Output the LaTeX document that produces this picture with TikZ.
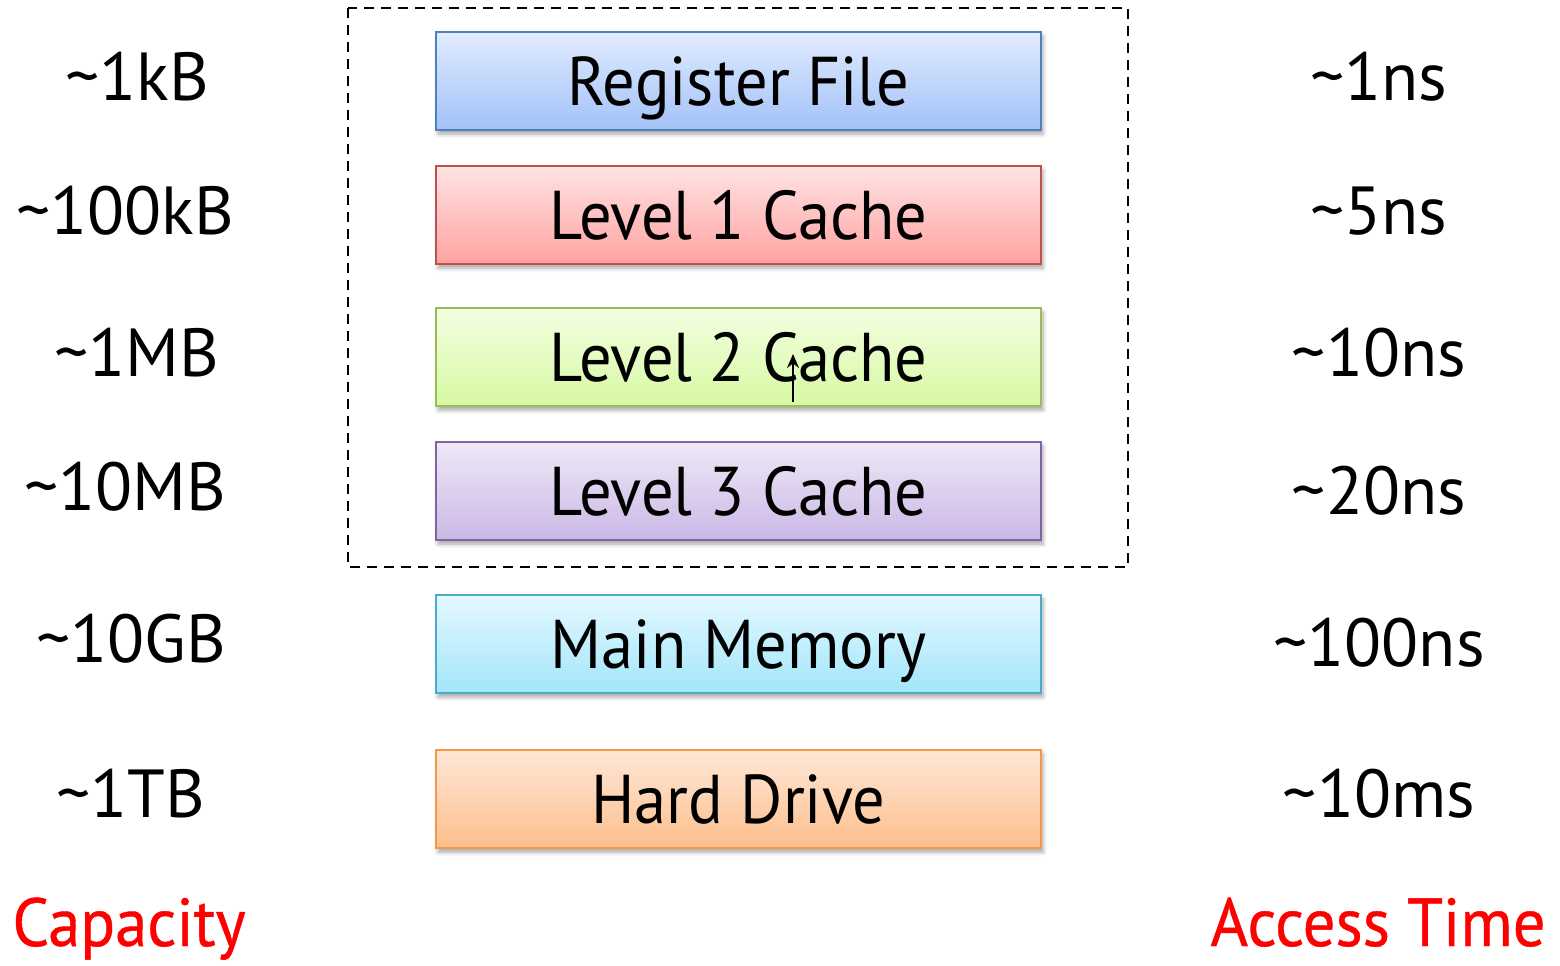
\documentclass[tikz,border=0pt]{standalone}
\usepackage{fontspec}
\setmainfont{PT Sans}
\newfontfamily\boxfont[FakeStretch=0.935]{PT Sans}
\newfontfamily\titlefont[FakeStretch=0.95,FakeBold=0.6]{PT Sans}
\usetikzlibrary{shadows.blur,arrows.meta}
\definecolor{regtop}{HTML}{E1ECFF}\definecolor{regbot}{HTML}{A3C1F8}\definecolor{regline}{HTML}{4F81BD}
\definecolor{lonetop}{HTML}{FFE3E3}\definecolor{lonebot}{HTML}{FFA2A2}\definecolor{loneline}{HTML}{C0504D}
\definecolor{ltwotop}{HTML}{F3FFE2}\definecolor{ltwobot}{HTML}{D6F9A2}\definecolor{ltwoline}{HTML}{9BBB59}
\definecolor{lthreetop}{HTML}{EEE8F6}\definecolor{lthreebot}{HTML}{CCB8E6}\definecolor{lthreeline}{HTML}{8064A2}
\definecolor{memtop}{HTML}{E4F8FF}\definecolor{membot}{HTML}{A2E6FB}\definecolor{memline}{HTML}{4BACC6}
\definecolor{hddtop}{HTML}{FFE7D7}\definecolor{hddbot}{HTML}{FCBF8C}\definecolor{hddline}{HTML}{F79646}
\definecolor{labelred}{HTML}{FF0000}
\tikzset{
  level/.style n args={3}{draw=#3, line width=1pt, top color=#1, bottom color=#2,
    minimum width=302.5pt, minimum height=49pt, inner sep=0pt,
    font=\boxfont\fontsize{34.5}{34.5}\selectfont, text height=24pt, text depth=0pt,
    blur shadow={shadow xshift=1pt, shadow yshift=-2pt, shadow blur radius=2pt, shadow opacity=35}},
  sidelabel/.style={anchor=base, inner sep=0pt, font=\fontsize{34}{34}\selectfont},
  caption/.style={anchor=base, inner sep=0pt, text=labelred, font=\titlefont\fontsize{34}{34}\selectfont},
}
\begin{document}
\begin{tikzpicture}[x=0.5pt,y=-0.5pt]
\useasboundingbox (0,0) rectangle (1560,965);
% cache group
\draw[line width=1pt, dash pattern=on 5pt off 3.5pt] (348,8) rectangle (1128,567);
% hierarchy levels
\node[level={regtop}{regbot}{regline}] (reg) at (738.5,81) {Register File};
\node[level={lonetop}{lonebot}{loneline}] (lone) at (738.5,215) {Level 1 Cache};
\node[level={ltwotop}{ltwobot}{ltwoline}] (ltwo) at (738.5,357) {Level 2 Cache};
\node[level={lthreetop}{lthreebot}{lthreeline}] (lthree) at (738.5,491) {Level 3 Cache};
\node[level={memtop}{membot}{memline}] (mem) at (738.5,644) {Main Memory};
\node[level={hddtop}{hddbot}{hddline}] (hdd) at (738.5,799) {Hard Drive};
% pointer
\draw[line width=1pt, -{Stealth[length=7pt,width=6pt]}] (793,402) -- (793,354);
% capacities
\node[sidelabel] (c1) at (137,100) {\char`\~1kB};
\node[sidelabel] (c2) at (125,234) {\char`\~100kB};
\node[sidelabel] (c3) at (137,376) {\char`\~1MB};
\node[sidelabel] (c4) at (125,510) {\char`\~10MB};
\node[sidelabel] (c5) at (131,662) {\char`\~10GB};
\node[sidelabel] (c6) at (131,817) {\char`\~1TB};
% access times
\node[sidelabel] (t1) at (1379,100) {\char`\~1ns};
\node[sidelabel] (t2) at (1379,234) {\char`\~5ns};
\node[sidelabel] (t3) at (1379,376) {\char`\~10ns};
\node[sidelabel] (t4) at (1379,514) {\char`\~20ns};
\node[sidelabel] (t5) at (1379,666) {\char`\~100ns};
\node[sidelabel] (t6) at (1379,817) {\char`\~10ms};
% column titles
\node[caption] (cap) at (129,946) {Capacity};
\node[caption] (acc) at (1378,946) {Access Time};
\end{tikzpicture}
\end{document}
